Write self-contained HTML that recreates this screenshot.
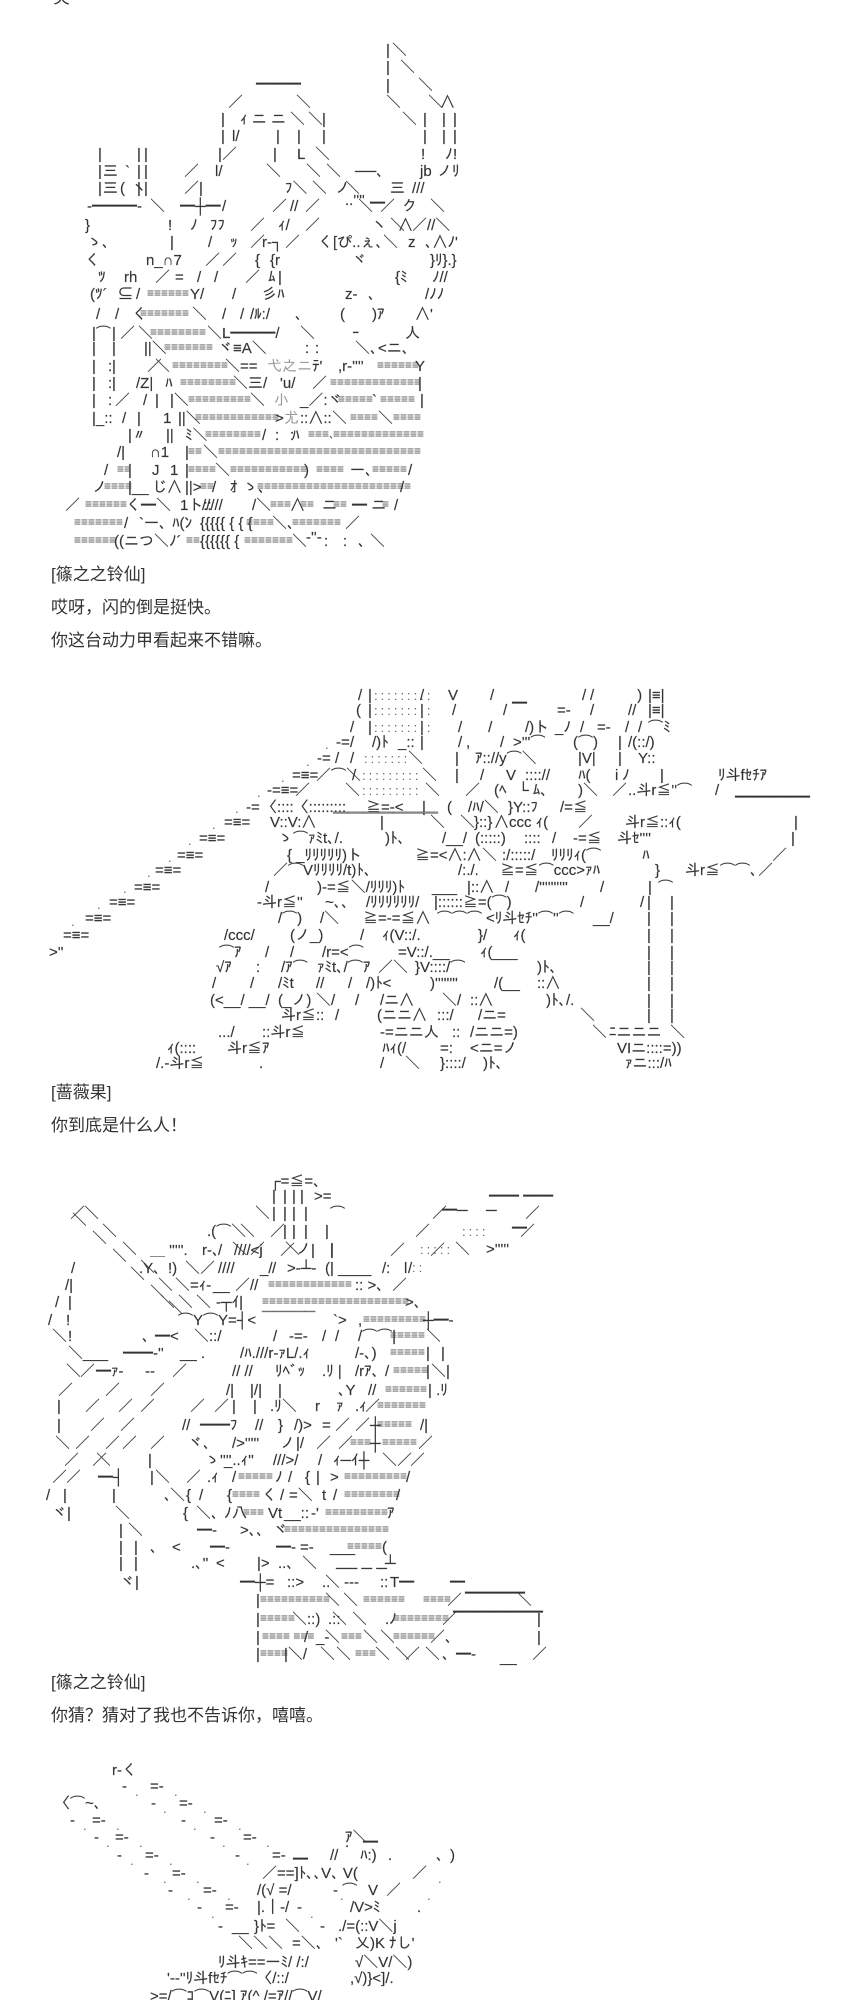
<!DOCTYPE html>
<html><head><meta charset="utf-8"><title>AA</title>
<style>
html,body{margin:0;padding:0;background:#fff;width:857px;height:2000px;overflow:hidden}
svg{position:absolute;left:0;top:0}
text{font-family:"Liberation Sans","IPAGothic","Noto Sans CJK JP",sans-serif;font-size:15px;fill:#333;stroke:#444;stroke-width:.18px;white-space:pre}
.f{font-size:12px;fill:#555;stroke:none}
.g{fill:#999;stroke:none}
.d{fill:#666;font-size:13px;letter-spacing:3px;stroke:none}
.b{font-family:"Liberation Sans","Noto Sans CJK SC",sans-serif;font-size:17px;fill:#333;stroke:none}
</style></head><body>
<svg width="857" height="2000" viewBox="0 0 857 2000" xmlns="http://www.w3.org/2000/svg">
<!-- body text -->
<text class="b" x="53" y="3">笑</text>
<text class="b" x="51" y="580">[篠之之铃仙]</text>
<text class="b" x="51" y="613">哎呀，闪的倒是挺快。</text>
<text class="b" x="51" y="646">你这台动力甲看起来不错嘛。</text>
<text class="b" x="51" y="1098">[蔷薇果]</text>
<text class="b" x="51" y="1131">你到底是什么人！</text>
<text class="b" x="51" y="1688">[篠之之铃仙]</text>
<text class="b" x="51" y="1721">你猜？猜对了我也不告诉你，嘻嘻。</text>

<!-- art 1 -->
<text y="55" x="386 392">|＼</text>
<text y="72" x="386 400">|＼</text>
<text y="90" x="386 418">|＼</text>
<text x="256" y="89">━━━</text>
<text y="107" x="386 428">＼＼</text>
<text y="107" x="228 296 440">／＼∧</text>
<text y="124" x="221 308 322 402 423 442 453">|＼|＼|||</text>
<text x="240" y="124">ｨ ニ ニ ＼</text>
<text y="141" x="221 276 297 322 423 442 453">||||||| </text>
<text x="232" y="141">l/</text>
<text y="159" x="218 222 273 315 421 445 453">|／|＼!ﾉ!</text>
<text x="297" y="159">L</text>
<text y="159" x="98 137 144">|||</text>
<text y="176" x="98 103 125 137 144 184 266 306 326">|三`||／＼＼＼</text>
<text x="215" y="176">l/</text><text x="355" y="176">──､</text><text x="420" y="176">jb</text><text x="437" y="176">ノﾘ</text>
<text y="193" x="98 103 120 132 137 144">|三(ヽ||</text>
<text x="184" y="193">／|</text><text x="285" y="193">ﾌ＼</text><text y="193" x="312 335 345 390">＼ノ＼三</text><text x="412" y="193">///</text>
<text x="87" y="211">-━━━-</text><text y="211" x="150 222">＼/</text><text x="180" y="211">━┼━</text>
<text x="290" y="211">//</text><text y="211" x="305 358">／＼</text><text x="345" y="205">..''''</text><text x="370" y="208">━</text>
<text y="211" x="380 402 430">／ク＼</text><text y="211" x="272">／</text>
<text y="230" x="85 168 190">}!ﾉ</text><text x="210" y="230">ﾌﾌ</text><text y="230" x="250 305 372 390 398">／／ヽ＼∧</text><text x="278" y="230">ｨ/</text><text x="412" y="230">／//＼</text>
<text x="87" y="247">ゝ､</text><text y="247" x="170 208 250 285">|/／／</text><text x="230" y="247">ｯ</text><text x="262" y="247">r‐┐</text>
<text x="318" y="247">く[ぴ..ぇ､＼</text><text y="247" x="408">z</text><text x="425" y="247">､∧ﾉ'</text>
<text y="265" x="85">く</text><text x="146" y="265">n_∩7</text><text y="265" x="205 222 255">／／{</text><text x="270" y="265">{r</text><text x="352" y="265">ヾ</text><text x="430" y="265">}ﾘ}.}</text>
<text x="98" y="282">ﾂ</text><text x="124" y="282">rh</text><text y="282" x="155 175 197 214 245 268 278">／=//／ﾑ|</text><text x="395" y="282">{ﾐ</text><text x="432" y="282">ﾉ//</text>
<text x="90" y="299">(ﾂ´</text><text x="118" y="299">⊆</text><text y="299" x="136">/</text><text class="f" x="147" y="297">≡≡≡≡≡≡</text><text y="299" x="190 200 232">Y//</text><text x="262" y="299">彡ﾊ</text><text x="345" y="299">z‐</text><text x="368" y="299">､</text><text x="425" y="299">/ﾉﾉ</text>
<text y="319" x="96 115 132">//く</text><text class="f" x="140" y="317">≡≡≡≡≡≡≡</text><text y="319" x="192 222 240">＼//</text><text x="250" y="319">/ﾙ:/</text><text y="319" x="295 340">､(</text><text x="372" y="319">)ｱ</text><text x="415" y="319">∧'</text>
<text x="92" y="338">|⌒</text><text y="338" x="112 120 138">|／＼</text><text class="f" x="150" y="336">≡≡≡≡≡≡≡≡</text><text x="207" y="338">＼L━━━/</text><text y="338" x="300 352">＼ｰ</text><text x="405" y="338">人</text>
<text y="353" x="92 112">||</text><text x="144" y="353">||＼</text><text class="f" x="164" y="351">≡≡≡≡≡≡≡</text><text x="218" y="353">ヾ≡A＼</text><text y="353" x="305 315 355">::＼､</text><text x="378" y="353">&lt;ニ､</text>
<text y="371" x="92 108 112 147 155">|:|／＼</text><text class="f" x="172" y="369">≡≡≡≡≡≡≡≡</text><text x="225" y="371">＼==</text><text class="g" x="267" y="371">弋之ニ</text><text x="312" y="371">ﾃ'</text><text x="338" y="371">,r‐''''</text><text class="f" x="377" y="369">≡≡≡≡≡≡</text><text x="415" y="371">Y</text>
<text y="388" x="92 108 112">|:|</text><text x="136" y="388">/Z|</text><text y="388" x="165">ﾊ</text><text class="f" x="180" y="386">≡≡≡≡≡≡≡≡</text><text x="233" y="388">＼三/</text><text x="280" y="388">'u/</text><text y="388" x="312">／</text><text class="f" x="330" y="386">≡≡≡≡≡≡≡≡≡≡≡≡≡</text><text y="388" x="418">|</text>
<text y="405" x="92 108 115 143 155 170">|:／/||＼</text><text class="f" x="188" y="403">≡≡≡≡≡≡≡≡≡</text><text y="405" x="250">＼</text><text class="g" x="274" y="405">小</text><text x="300" y="405">_／:ヾ</text><text class="f" x="338" y="403">≡≡≡≡≡</text><text y="405" x="372">`</text><text class="f" x="380" y="403">≡≡≡≡≡</text><text y="405" x="420">|</text>
<text x="92" y="423">|_::</text><text y="423" x="122 137 163">/|1</text><text x="178" y="423">||＼</text><text class="f" x="195" y="421">≡≡≡≡≡≡≡≡≡≡≡≡</text><text x="275" y="423">&gt;</text><text class="g" x="284" y="423">尤</text><text x="300" y="423">::∧::</text><text y="423" x="332">＼</text><text class="f" x="350" y="421">≡≡≡≡</text><text y="423" x="378">＼</text><text class="f" x="393" y="421">≡≡≡≡</text>
<text x="128" y="440">|〃</text><text y="440" x="166">||</text><text x="185" y="440">ﾐ＼</text><text class="f" x="205" y="438">≡≡≡≡≡≡≡≡</text><text y="440" x="262 275 290">/::</text><text x="292" y="440">ﾊ</text><text class="f" x="308" y="438">≡≡≡､</text><text class="f" x="333" y="438">≡≡≡≡≡≡≡≡≡≡≡≡≡</text>
<text x="117" y="457">/|</text><text x="150" y="457">∩1</text><text y="457" x="185">|</text><text class="f" x="188" y="455">≡≡</text><text y="457" x="203">＼</text><text class="f" x="218" y="455">≡≡≡≡≡≡≡≡≡≡≡≡≡≡≡≡≡≡≡≡≡≡≡≡≡≡≡≡≡</text>
<text y="475" x="104 128 152 170 185">/|J1|</text><text class="f" x="117" y="473">≡≡</text><text class="f" x="188" y="473">≡≡≡≡</text><text y="475" x="215">＼</text><text class="f" x="230" y="473">≡≡≡≡≡≡≡≡≡≡≡</text><text y="475" x="304">)</text><text class="f" x="316" y="473">≡≡≡≡</text><text x="350" y="475">ー､</text><text class="f" x="372" y="473">≡≡≡≡≡</text><text y="475" x="408">/</text>
<text x="92" y="492">ノ</text><text class="f" x="104" y="490">≡≡≡≡</text><text x="128" y="492">|__</text><text x="152" y="492">じ</text><text y="492" x="167">∧</text><text x="185" y="492">||&gt;</text><text class="f" x="200" y="490">≡≡</text><text y="492" x="212 230">/ｵ</text><text x="243" y="492">ゝ､</text><text class="f" x="257" y="490">≡≡≡≡≡≡≡≡≡≡≡≡≡≡≡≡≡≡≡≡≡≡</text><text y="492" x="400">/</text>
<text y="510" x="65">／</text><text class="f" x="85" y="508">≡≡≡≡≡≡</text><text x="126" y="510">く━＼</text><text x="180" y="510">1ト::</text><text x="202" y="510">/////</text><text x="252" y="510">/＼</text><text class="f" x="270" y="508">≡≡≡</text><text y="510" x="290">∧</text><text class="f" x="300" y="508">≡≡</text><text x="322" y="510">ニ</text><text class="f" x="333" y="508">≡≡</text><text x="352" y="510">━ ニ</text><text class="f" x="382" y="508">≡</text><text y="510" x="394">/</text>
<text class="f" x="74" y="526">≡≡≡≡≡≡≡</text><text y="528" x="124">/</text><text x="139" y="528">`ー､</text><text x="172" y="528">ﾊ(ﾝ</text><text x="200" y="528">{{{{{ { { {</text><text class="f" x="246" y="526">≡≡≡≡</text><text x="272" y="528">＼､</text><text class="f" x="292" y="526">≡≡≡≡≡≡≡</text><text y="528" x="345">／</text>
<text class="f" x="74" y="544">≡≡≡≡≡≡</text><text x="114" y="546">((ニつ＼ﾉ´</text><text class="f" x="186" y="544">≡≡</text><text x="200" y="546">{{{{{{ {</text><text class="f" x="244" y="544">≡≡≡≡≡≡≡</text><text y="546" x="292">＼</text><text x="306" y="542">‐''‐</text><text y="546" x="324 343 358 370">::､＼</text>

<!-- art 2 -->
<g style="font-size:14px">
<text y="700" x="358 368 420 448 490 582 590 633">/|/V/// )</text><text class="d" x="374" y="700">:::::::::</text><text x="648" y="700">|≡|</text>
<text y="715" x="356 368 420 452 478 503 578 590 628">(||/ / /// </text><text class="d" x="374" y="715">:::::::::</text><text x="512" y="708">━</text><text x="557" y="715">=‐</text><text x="648" y="715">|≡|</text>
<text y="732" x="350 368 420 458 484">/||/ /</text><text class="d" x="374" y="732">:::::::::</text><text x="525" y="732">/)ト</text><text x="555" y="732">_ﾉ</text><text y="732" x="580">/</text><text x="597" y="732">=-</text><text y="732" x="625 638">//</text><text x="648" y="732">⌒ﾐ</text>
<text x="336" y="747">‐=</text><text y="747" x="350">/</text><text x="372" y="747">/)ﾄ</text><text x="398" y="747">_::</text><text y="747" x="420 458 466 500">|/,/</text><text x="513" y="747">&gt;'''⌒</text><text x="573" y="747">(⌒)</text><text y="747" x="618">|</text><text x="628" y="747">/(::/)</text>
<text x="317" y="763">‐=</text><text y="763" x="335 350">//</text><text class="d" x="364" y="763">:::::::</text><text y="763" x="408 455">＼|</text><text x="475" y="763">ｱ:://y⌒＼</text><text x="578" y="763">|V|</text><text y="763" x="618">|</text><text x="638" y="763">Y::</text>
<text x="292" y="780">=≡=</text><text x="316" y="780">／⌒＼</text><text y="780" x="352">/</text><text class="d" x="362" y="780">:::::::::</text><text y="780" x="422 455 480 506">＼|/V</text><text x="525" y="780">:::://</text><text x="578" y="780">ﾊ(</text><text y="780" x="615 622 660">iﾉ|</text><text x="718" y="780">ﾘ斗fｾﾁｱ</text>
<text x="267" y="795">‐=≡=</text><text y="795" x="295 345">／＼</text><text class="d" x="362" y="795">:::::::::</text><text y="795" x="425 465">＼／</text><text x="494" y="795">(ﾍ</text><text x="518" y="795">└ ﾑ､</text><text x="578" y="795">)＼</text><text y="795" x="612">／</text><text x="628" y="795">..斗r≦''⌒</text><text y="795" x="715">/</text>
<text x="246" y="812">‐=</text><text x="262" y="812">〈::::〈:::::::::</text><text x="366" y="812">≧=‐&lt;</text><text y="812" x="422 447">|(</text><text x="468" y="812">/ﾊ/＼</text><text x="508" y="812">}Y::ﾌ</text><text x="560" y="812">/=≦</text><text x="735" y="802">━━━━━</text>
<text x="333" y="818" style="fill:#888">━━━━━━━</text>
<text x="224" y="827">=≡=</text><text x="270" y="827">V::V:∧</text><text y="827" x="380 430 460">|＼＼</text><text x="474" y="827">}::}</text><text x="494" y="827">∧ccc ｨ(</text><text y="827" x="578">／</text><text x="625" y="827">斗r≦::ｨ(</text><text y="827" x="794">|</text>
<text x="199" y="843">=≡=</text><text x="278" y="843">ゝ⌒ｧﾐt､/.</text><text x="385" y="843">)ﾄ､</text><text x="442" y="843">/__/</text><text x="475" y="843">(:::::)</text><text x="524" y="843">::::</text><text y="843" x="552">/</text><text x="573" y="843">‐=≦</text><text x="617" y="843">斗ｾ''''</text><text y="843" x="791">|</text>
<text x="177" y="860">=≡=</text><text x="287" y="860">{ _ﾘﾘﾘﾘﾘ)ト</text><text x="415" y="860">≧=&lt;∧:∧</text><text y="860" x="482">＼</text><text x="502" y="860">:/:::::/</text><text x="551" y="860">ﾘﾘﾘｨ(⌒</text><text y="860" x="642">ﾊ</text><text y="860" x="772">／</text>
<text x="155" y="875">=≡=</text><text x="273" y="875">／⌒Vﾘﾘﾘﾘ/t)ﾄ､</text><text x="458" y="875">/:./.</text><text x="500" y="875">≧=≦⌒ccc&gt;ｧﾊ</text><text y="875" x="655">}</text><text x="685" y="875">斗r≦⌒⌒､</text><text y="875" x="758">／</text>
<text x="134" y="892">=≡=</text><text y="892" x="265">/</text><text x="317" y="892">)‐=≦＼/ﾘﾘﾘ)ﾄ</text><text x="432" y="892">___</text><text x="467" y="892">|::∧</text><text y="892" x="505">/</text><text x="535" y="892">/''''''''''</text><text y="892" x="600 648 658">/|⌒</text>
<text x="109" y="907">=≡=</text><text x="257" y="907">‐斗r≦''</text><text x="325" y="907">~､､</text><text x="366" y="907">/ﾘﾘﾘﾘﾘﾘ/</text><text x="434" y="907">|::::::≧=(⌒)</text><text y="907" x="580 640 647 670">//||</text>
<text x="85" y="923">=≡=</text><text x="278" y="923">/⌒)</text><text x="320" y="923">/＼</text><text x="363" y="923">≧=‐=≦∧</text><text x="437" y="923">⌒⌒⌒</text><text x="486" y="923">&lt;ﾘ斗ｾﾁ''⌒''⌒</text><text x="593" y="923">__/</text><text y="923" x="647 670">||</text>
<text x="63" y="940">=≡=</text><text x="224" y="940">/ccc/</text><text x="290" y="940">(ノ_)</text><text y="940" x="360">/</text><text x="382" y="940">ｨ(V::/.</text><text x="478" y="940">}/</text><text x="513" y="940">ｨ(</text><text y="940" x="647 670">||</text>
<text x="49" y="957">&gt;''</text><text x="219" y="957">⌒ｱ</text><text y="957" x="265 290">//</text><text x="322" y="957">/r=&lt;⌒</text><text x="398" y="957">=V::/.__</text><text x="480" y="957">ｨ(___</text><text y="957" x="647 670">||</text>
<text x="216" y="972">√ｱ</text><text y="972" x="256">:</text><text x="281" y="972">/ｱ⌒</text><text x="317" y="972">ｧﾐt､/⌒ｱ</text><text x="378" y="972">／＼</text><text x="415" y="972">}V::::/⌒</text><text x="537" y="972">)ﾄ､</text><text y="972" x="647 670">||</text>
<text y="988" x="212 250">//</text><text x="278" y="988">/ﾐt</text><text x="316" y="988">//</text><text y="988" x="348">/</text><text x="366" y="988">/)ﾄ&lt;</text><text x="430" y="988">)''''''''</text><text x="494" y="988">/(__</text><text x="537" y="988">::∧</text><text y="988" x="647 670">||</text>
<text x="210" y="1005">(&lt;__/ __/</text><text x="278" y="1005">(_ノ)</text><text x="316" y="1005">＼/</text><text y="1005" x="355">/</text><text x="380" y="1005">/ニ∧</text><text x="442" y="1005">＼/</text><text x="470" y="1005">::∧</text><text x="546" y="1005">)ﾄ､/.</text><text y="1005" x="647 670">||</text>
<text x="281" y="1020">斗r≦::</text><text y="1020" x="335">/</text><text x="377" y="1020">(ニニ∧</text><text x="437" y="1020">:::/</text><text x="478" y="1020">/ニ=</text><text y="1020" x="580 647 670">＼||</text>
<text x="218" y="1037">.../</text><text x="262" y="1037">::斗r≦</text><text x="380" y="1037">‐=ニニ人</text><text y="1037" x="452">::</text><text x="470" y="1037">/ニニ=)</text><text y="1037" x="592">＼</text><text x="609" y="1037">ﾆニニニ</text><text y="1037" x="670">＼</text>
<text x="167" y="1053">ｨ(::::</text><text x="227" y="1053">斗r≦ｱ</text><text x="382" y="1053">ﾊｨ(/</text><text x="440" y="1053">=:</text><text x="470" y="1053">&lt;ニ=ノ</text><text x="617" y="1053">VIニ::::=))</text>
<text x="156" y="1068">/.‐斗r≦</text><text y="1068" x="259">.</text><text y="1068" x="380 405">/＼</text><text x="440" y="1068">}::::/</text><text x="483" y="1068">)ﾄ､</text><text x="625" y="1068">ｧニ:::/ﾊ</text>
<text class="d" y="926" x="71">.</text><text class="d" y="909" x="97">.</text><text class="d" y="893" x="123">.</text><text class="d" y="877" x="147">.</text><text class="d" y="862" x="168">.</text><text class="d" y="845" x="188">.</text><text class="d" y="829" x="212">.</text><text class="d" y="813" x="235">.</text><text class="d" y="797" x="257">.</text><text class="d" y="782" x="281">.</text><text class="d" y="766" x="306">.</text><text class="d" y="749" x="325">.</text>
</g>

<!-- art 3 -->
<text x="270" y="1186">┌=≦=､</text>
<text y="1201" x="272 283 292 300">||||</text><text x="314" y="1201">&gt;=</text><text x="489" y="1201">━━ ━━</text>
<text y="1218" x="70 255 272 283 292 304 330 432 525">／＼||||⌒／／</text><text x="442" y="1215">━─</text><text x="486" y="1215">─</text>
<text y="1236" x="240 270 283 292 304 325 415 520">＼／||||／／</text><text class="d" x="462" y="1236">::::</text><text x="512" y="1233">━</text>
<text x="207" y="1236">.(⌒＼</text>
<text y="1254" x="232 250 285 296 330">＼／＼ノ|</text><text y="1254" x="455">＼</text><text x="486" y="1254">&gt;'''''</text><text class="d" x="420" y="1254">:::::</text>
<text y="1218" x="84">＼</text><text y="1236" x="102">＼</text><text y="1254" x="122">＼</text><text y="1272" x="140">＼</text><text y="1290" x="158">＼</text><text y="1307" x="178">＼</text>
<text y="1225" x="72">＼</text><text y="1243" x="92">＼</text><text y="1261" x="112">＼</text><text y="1279" x="130">＼</text><text y="1297" x="150">＼</text><text y="1313" x="168">＼</text>
<text x="150" y="1255">＿ '''''.</text><text x="202" y="1255">r‐､</text><text y="1255" x="218">/</text><text x="234" y="1255">////&lt;j</text><text y="1255" x="280 311 330 390 430">／||／／</text><text class="d" x="412" y="1272">::</text>
<text y="1273" x="71">/</text><text x="139" y="1273">.Y､</text><text x="168" y="1273">!)</text><text y="1273" x="185 200">＼／</text><text x="218" y="1273">////</text><text x="260" y="1273">_/</text><text y="1273" x="272">/</text><text x="287" y="1273">&gt;‐┴‐</text><text x="325" y="1273">(|</text><text x="338" y="1273">____</text><text x="382" y="1273">/:</text><text y="1273" x="404 408">l/</text>
<text x="65" y="1290">/|</text><text x="175" y="1290">＼=ｨ‐</text><text x="213" y="1290">__</text><text x="235" y="1290">／//</text><text class="f" x="268" y="1288">≡≡≡≡≡≡≡≡≡≡≡≡</text><text x="355" y="1290">:: &gt;､</text><text y="1290" x="392">／</text>
<text y="1307" x="55 68 160 196">/|＼＼</text><text x="216" y="1307">‐┬ｲ|</text><text class="f" x="262" y="1305">≡≡≡≡≡≡≡≡≡≡≡≡≡≡≡≡≡≡≡≡≡</text><text x="405" y="1307">&gt;､</text>
<text y="1325" x="48 66">/!</text><text x="178" y="1325">⌒Y⌒Y=┤&lt;</text><text x="262" y="1316" style="fill:#777">─────</text><text x="333" y="1325">`&gt;</text><text x="358" y="1325">,</text><text class="f" x="363" y="1323">≡≡≡≡≡≡≡≡≡</text><text x="423" y="1325">┼━‐</text>
<text y="1341" x="52 68 142">＼!､</text><text x="155" y="1341">━&lt;</text><text x="194" y="1341">＼::/</text><text y="1341" x="273">/</text><text x="289" y="1341">‐=‐</text><text y="1341" x="322 335">//</text><text x="358" y="1341">/⌒⌒|</text><text class="f" x="390" y="1339">≡≡≡≡≡</text><text y="1341" x="426">＼</text>
<text x="68" y="1358">＼___</text><text x="123" y="1358">━━‐''</text><text x="180" y="1358">__ .</text><text x="240" y="1358">/ﾊ.///r‐ｧL/.ｨ</text><text x="355" y="1358">/‐､)</text><text class="f" x="390" y="1356">≡≡≡≡≡</text><text y="1358" x="426 441">||</text>
<text y="1376" x="66 80 172">＼／／</text><text x="96" y="1376">━ｧ‐</text><text x="145" y="1376">‐‐</text><text x="232" y="1376">// //</text><text x="275" y="1376">ﾘﾍﾞｯ</text><text x="322" y="1376">.ﾘ |</text><text x="355" y="1376">/rｱ､</text><text y="1376" x="385">/</text><text class="f" x="393" y="1374">≡≡≡≡≡</text><text y="1376" x="426">|</text><text x="431" y="1376">＼|</text>
<text y="1395" x="58 105 150">／／／</text><text x="226" y="1395">/|</text><text x="250" y="1395">|/|</text><text y="1395" x="278">|</text><text x="338" y="1395">､Y</text><text x="368" y="1395">//</text><text class="f" x="385" y="1393">≡≡≡≡≡≡</text><text x="428" y="1395">| .ﾘ</text>
<text y="1411" x="57 85 118 140 190 214 232 253 282 315 336 365">|／／／／／||＼rｧ／</text><text x="270" y="1411">.ﾘ</text><text x="355" y="1411">.ｨ</text><text class="f" x="377" y="1409">≡≡≡≡≡≡≡</text>
<text y="1430" x="57 90 120 278">|／／}</text><text x="182" y="1430">//</text><text x="200" y="1430">━━ﾌ</text><text x="255" y="1430">//</text><text x="294" y="1430">/)&gt;</text><text y="1430" x="322 335 355 370">=／／┼</text><text class="f" x="377" y="1428">≡≡≡≡≡</text><text y="1430" x="420">/|</text>
<text y="1448" x="55 75 105 122 150">＼／／／／</text><text x="188" y="1448">ヾ､</text><text x="232" y="1448">/&gt;'''''</text><text y="1448" x="280">ノ</text><text x="296" y="1448">|/</text><text y="1448" x="316 338">／／</text><text class="f" x="350" y="1446">≡≡≡</text><text y="1448" x="370">┼</text><text class="f" x="382" y="1446">≡≡≡≡≡</text><text y="1448" x="418">／</text>
<text y="1465" x="64 92 148">／／|</text><text y="1465" x="96">＼</text><text x="205" y="1465">ゝ''''</text><text x="224" y="1465">_..ｨ''</text><text x="273" y="1465">///&gt;/</text><text y="1465" x="318">/</text><text x="333" y="1465">ｨ─ｲ┼</text><text x="382" y="1465">＼／</text><text y="1465" x="410">／</text>
<text y="1482" x="52 66 150 155 186">／／|＼／</text><text x="98" y="1482">━┤</text><text x="207" y="1482">.ｨ</text><text y="1482" x="232">/</text><text class="f" x="238" y="1480">≡≡≡≡≡</text><text y="1482" x="275 288 305 316">ﾉ/{|</text><text y="1482" x="330">&gt;</text><text class="f" x="344" y="1480">≡≡≡≡≡≡≡≡≡</text><text y="1482" x="406">/</text>
<text y="1500" x="46 63 112 164 186 199 227">/||､{/{</text><text y="1500" x="170">＼</text><text class="f" x="232" y="1498">≡≡≡≡</text><text y="1500" x="262 280">く/</text><text x="289" y="1500">=＼</text><text y="1500" x="322 333">t/</text><text class="f" x="344" y="1498">≡≡≡≡≡≡≡≡</text><text y="1500" x="396">/</text>
<text x="52" y="1518">ヾ|</text><text y="1518" x="115 183">＼{</text><text x="196" y="1518">＼､</text><text y="1518" x="224">ﾉ</text><text x="232" y="1518">八</text><text class="f" x="243" y="1516">≡≡≡</text><text x="268" y="1518">Vt</text><text x="284" y="1518">__::</text><text x="311" y="1518">‐'</text><text class="f" x="325" y="1516">≡≡≡≡≡≡≡≡≡</text><text y="1518" x="387">ｱ</text>
<text y="1535" x="119 128">|＼</text><text x="197" y="1535">━‐</text><text x="240" y="1535">&gt;､､</text><text x="273" y="1535">ヾ</text><text class="f" x="284" y="1533">≡≡≡≡≡≡≡≡≡≡≡≡≡≡≡</text>
<text y="1552" x="119 134 150">||､</text><text x="172" y="1552">&lt;</text><text x="210" y="1552">━‐</text><text x="276" y="1552">━‐</text><text x="300" y="1552">=‐</text><text x="330" y="1552">___</text><text class="f" x="347" y="1550">≡≡≡≡≡</text><text y="1552" x="382">(</text>
<text y="1568" x="119 134">||</text><text x="191" y="1568">.､''</text><text x="216" y="1568">&lt;</text><text x="257" y="1568">|&gt;</text><text x="278" y="1568">..､</text><text y="1568" x="302">＼</text><text x="385" y="1568">┴</text><text x="336" y="1573">── ─ ─</text>
<text x="120" y="1587">ヾ|</text><text x="240" y="1587">━┼=</text><text x="287" y="1587">::&gt;</text><text x="322" y="1587">..</text><text y="1587" x="325">＼</text><text x="344" y="1587">‐‐‐</text><text y="1587" x="380">::</text><text x="390" y="1587">T━</text><text y="1587" x="450">━</text>
<text y="1605" x="256">|</text><text class="f" x="260" y="1603">≡≡≡≡≡≡≡≡≡≡</text><text y="1605" x="325 343">＼＼</text><text class="f" x="363" y="1603">≡≡≡≡≡≡</text><text class="f" x="423" y="1603">≡≡≡≡</text><text y="1605" x="447">／</text><text x="465" y="1598">━━━━</text><text y="1605" x="517">＼</text>
<text y="1624" x="256">|</text><text class="f" x="260" y="1622">≡≡≡≡≡</text><text x="292" y="1624">＼::)</text><text x="328" y="1624">.::</text><text y="1624" x="332 352">＼＼</text><text x="385" y="1624">.ﾉ</text><text class="f" x="393" y="1622">≡≡≡≡≡≡≡≡</text><text y="1624" x="442">／</text><text x="453" y="1617">━━━━━━</text><text y="1624" x="537">|</text>
<text y="1642" x="256">|</text><text class="f" x="262" y="1640">≡≡≡≡ ≡≡≡</text><text y="1642" x="304">/</text><text x="316" y="1642">_‐</text><text y="1642" x="325">＼</text><text class="f" x="341" y="1640">≡≡≡</text><text y="1642" x="363 380">＼＼</text><text class="f" x="393" y="1640">≡≡≡≡≡≡</text><text y="1642" x="430">／</text><text y="1642" x="445 537">､|</text>
<text y="1659" x="256">|</text><text class="f" x="260" y="1657">≡≡≡≡</text><text x="284" y="1659">|＼/</text><text y="1659" x="320 336">＼＼</text><text class="f" x="355" y="1657">≡≡≡</text><text y="1659" x="375 395 405 425 442">＼＼／＼､</text><text x="456" y="1659">━‐</text><text x="500" y="1662">__</text><text y="1659" x="532">／</text>

<!-- art 4 -->
<text x="112" y="1775">r‐く</text>
<text y="1791" x="122">‐</text><text x="150" y="1791">=‐</text><text class="d" y="1796" x="135">.</text><text class="d" y="1796" x="174">.</text>
<text x="55" y="1808">〈⌒~､</text><text y="1808" x="151">‐</text><text x="179" y="1808">=‐</text><text class="d" y="1813" x="163">.</text><text class="d" y="1813" x="203">.</text>
<text y="1825" x="70 181">‐‐</text><text x="92" y="1825">=‐</text><text x="214" y="1825">=‐</text><text class="d" y="1830" x="83">.</text><text class="d" y="1830" x="116">.</text><text class="d" y="1830" x="193">.</text><text class="d" y="1830" x="238">.</text>
<text y="1842" x="94 210">‐‐</text><text x="115" y="1842">=‐</text><text x="243" y="1842">=‐</text><text class="d" y="1847" x="106">.</text><text class="d" y="1847" x="139">.</text><text class="d" y="1847" x="222">.</text><text class="d" y="1847" x="266">.</text><text x="345" y="1842">ｱ＼</text>
<text y="1860" x="117 235">‐‐</text><text x="145" y="1860">=‐</text><text x="272" y="1860">=‐</text><text x="330" y="1860">//</text><text x="360" y="1860">ﾊ:)</text><text y="1860" x="388 436 450">.､)</text><text x="345" y="1847">.</text><text x="363" y="1847">━</text><text class="d" y="1865" x="130">.</text><text class="d" y="1865" x="169">.</text><text class="d" y="1865" x="246">.</text><text x="293" y="1864">━</text>
<text y="1878" x="144">‐</text><text x="172" y="1878">=‐</text><text x="262" y="1878">／==]ﾄ､､V､ V(</text><text y="1878" x="412">／</text><text class="d" y="1883" x="163">.</text><text class="d" y="1883" x="196">.</text><text class="d" y="1883" x="438">.</text>
<text y="1895" x="168">‐</text><text x="203" y="1895">=‐</text><text x="257" y="1895">/(√ =/</text><text x="333" y="1895">‐ ⌒</text><text y="1895" x="368 386">V／</text><text class="d" y="1900" x="187">.</text><text class="d" y="1900" x="227">.</text><text class="d" y="1900" x="340">.</text><text class="d" y="1900" x="427">.</text>
<text y="1912" x="197">‐</text><text x="225" y="1912">=‐</text><text x="257" y="1912">|.｜‐/</text><text y="1912" x="297">‐</text><text x="350" y="1912">/V&gt;ﾐ</text><text y="1912" x="417">.</text>
<text y="1931" x="218">‐</text><text x="232" y="1931">__</text><text x="254" y="1931">}ﾄ=</text><text y="1931" x="285 320">＼‐</text><text x="338" y="1931">./=(::V＼j</text><text class="d" y="1918" x="211">.</text><text class="d" y="1918" x="310">.</text>
<text x="238" y="1948">＼＼＼</text><text x="292" y="1948">=＼､</text><text x="335" y="1948">'`</text><text x="355" y="1948">乂)K ﾅし'</text>
<text x="218" y="1967">ﾘ斗ｷ==ーﾐ/ /:/</text><text x="355" y="1967">√＼V/＼)</text>
<text x="167" y="1983">'-‐''ﾘ斗fｾﾁ⌒⌒〈/::/</text><text x="350" y="1983">,√)}&lt;]/.</text>
<text x="150" y="2001">&gt;=/⌒ｺ⌒V(ﾆ] ｱ(^ /=ｱ//⌒V/</text>
</svg>
</body></html>
